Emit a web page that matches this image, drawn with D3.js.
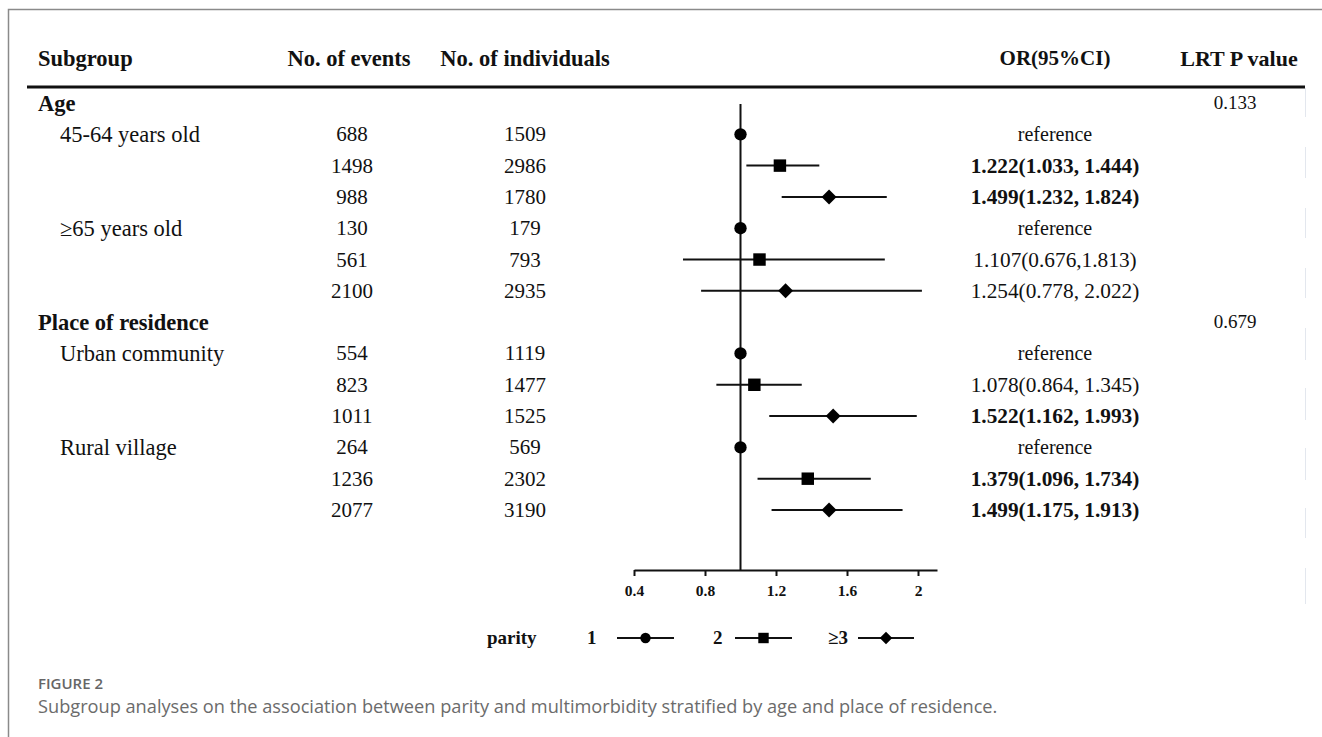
<!DOCTYPE html>
<html>
<head>
<meta charset="utf-8">
<script src="https://cdn.jsdelivr.net/npm/d3@7/dist/d3.min.js"></script>
<style>
  html, body { margin: 0; padding: 0; background: #fff; }
  svg { display: block; }
</style>
</head>
<body>
<svg id="chart" width="1322" height="737"></svg>
<script>
// Subgroup forest plot: parity vs multimorbidity, stratified by age and place of residence
const rowLabels = ["Age", "45-64 years old", "", "", "≥65 years old", "", "",
                   "Place of residence", "Urban community", "", "", "Rural village", "", ""];
const headerRows = [true, false, false, false, false, false, false,
                    true, false, false, false, false, false, false];
const events      = [null, 688, 1498, 988, 130, 561, 2100, null, 554, 823, 1011, 264, 1236, 2077];
const individuals = [null, 1509, 2986, 1780, 179, 793, 2935, null, 1119, 1477, 1525, 569, 2302, 3190];
const parity      = [null, 1, 2, 3, 1, 2, 3, null, 1, 2, 3, 1, 2, 3];
const orValue     = [null, 1, 1.222, 1.499, 1, 1.107, 1.254, null, 1, 1.078, 1.522, 1, 1.379, 1.499];
const ciLower     = [null, null, 1.033, 1.232, null, 0.676, 0.778, null, null, 0.864, 1.162, null, 1.096, 1.175];
const ciUpper     = [null, null, 1.444, 1.824, null, 1.813, 2.022, null, null, 1.345, 1.993, null, 1.734, 1.913];
const orText      = ["", "reference", "1.222(1.033, 1.444)", "1.499(1.232, 1.824)",
                     "reference", "1.107(0.676,1.813)", "1.254(0.778, 2.022)",
                     "", "reference", "1.078(0.864, 1.345)", "1.522(1.162, 1.993)",
                     "reference", "1.379(1.096, 1.734)", "1.499(1.175, 1.913)"];
const significant = [false, false, true, true, false, false, false,
                     false, false, false, true, false, true, true];
const lrtP        = ["0.133", "", "", "", "", "", "", "0.679", "", "", "", "", "", ""];
const columnHeads = ["Subgroup", "No. of events", "No. of individuals", "OR(95%CI)", "LRT P value"];
const tickValues  = [0.4, 0.8, 1.2, 1.6, 2];
const parityLevels = [1, 2, 3];
const parityNames  = ["1", "2", "≥3"];
const figureLabel = "FIGURE 2";
const captionText = "Subgroup analyses on the association between parity and multimorbidity stratified by age and place of residence.";

const SERIF = "'Liberation Serif', 'Times New Roman', serif";
const SANS = "'Open Sans', 'Noto Sans', sans-serif";

const svg = d3.select("#chart");

// frame
svg.append("path")
  .attr("d", "M8.5,737 L8.5,9.5 L1322,9.5")
  .attr("fill", "none").attr("stroke", "#8a8a8a").attr("stroke-width", 1.5);

// faint cell borders on the right edge
svg.append("g").selectAll("line")
  .data([[88,117],[147,178],[208,238],[268,298],[328,360],[388,420],[448,480],[508,538],[568,604]])
  .join("line")
  .attr("x1", 1305.5).attr("x2", 1305.5)
  .attr("y1", d => d[0]).attr("y2", d => d[1])
  .attr("stroke", "#e3e7ee").attr("stroke-width", 1);

// row scale
const y = d3.scaleLinear().domain([0, 13]).range([103, 510]);
// OR scale
const x = d3.scaleLinear().domain([0.4, 2.107]).range([634, 937]);

// column headers
const colX = [38, 349, 525, 1055, 1239];
const colAnchor = ["start", "middle", "middle", "middle", "middle"];
const colSize = [22.5, 22.5, 22.5, 21, 22];
svg.append("g").selectAll("text").data(columnHeads).join("text")
  .attr("x", (d, i) => colX[i]).attr("y", 58)
  .attr("text-anchor", (d, i) => colAnchor[i])
  .attr("dominant-baseline", "central")
  .attr("font-family", SERIF).attr("font-weight", "bold")
  .attr("font-size", (d, i) => colSize[i])
  .attr("fill", "#111")
  .text(d => d);

// header rule
svg.append("line")
  .attr("x1", 27).attr("x2", 1305).attr("y1", 87).attr("y2", 87)
  .attr("stroke", "#111").attr("stroke-width", 3);

const rows = d3.range(rowLabels.length);

// subgroup labels
svg.append("g").selectAll("text").data(rows.filter(i => rowLabels[i] !== "")).join("text")
  .attr("x", i => headerRows[i] ? 38 : 60)
  .attr("y", i => y(i))
  .attr("dominant-baseline", "central")
  .attr("font-family", SERIF).attr("font-size", 22.5)
  .attr("font-weight", i => headerRows[i] ? "bold" : "normal")
  .attr("fill", "#111")
  .text(i => rowLabels[i]);

// counts
svg.append("g").selectAll("text").data(rows.filter(i => events[i] != null)).join("text")
  .attr("x", 352).attr("y", i => y(i))
  .attr("text-anchor", "middle").attr("dominant-baseline", "central")
  .attr("font-family", SERIF).attr("font-size", 21).attr("fill", "#111")
  .text(i => events[i]);
svg.append("g").selectAll("text").data(rows.filter(i => individuals[i] != null)).join("text")
  .attr("x", 525).attr("y", i => y(i))
  .attr("text-anchor", "middle").attr("dominant-baseline", "central")
  .attr("font-family", SERIF).attr("font-size", 21).attr("fill", "#111")
  .text(i => individuals[i]);

// OR text
svg.append("g").selectAll("text").data(rows.filter(i => orText[i] !== "")).join("text")
  .attr("x", 1055).attr("y", i => y(i))
  .attr("text-anchor", "middle").attr("dominant-baseline", "central")
  .attr("font-family", SERIF)
  .attr("font-size", i => orText[i] === "reference" ? 20 : 21.3)
  .attr("font-weight", i => significant[i] ? "bold" : "normal")
  .attr("fill", "#111")
  .text(i => orText[i]);

// LRT p values
svg.append("g").selectAll("text").data(rows.filter(i => lrtP[i] !== "")).join("text")
  .attr("x", 1235).attr("y", i => y(i) - 1)
  .attr("text-anchor", "middle").attr("dominant-baseline", "central")
  .attr("font-family", SERIF).attr("font-size", 19).attr("fill", "#111")
  .text(i => lrtP[i]);

// reference line at OR = 1
svg.append("line")
  .attr("x1", x(1)).attr("x2", x(1)).attr("y1", 104).attr("y2", 570)
  .attr("stroke", "#111").attr("stroke-width", 2);

// x axis
const axis = svg.append("g").attr("transform", "translate(0,570)")
  .call(d3.axisBottom(x).tickValues(tickValues).tickFormat(d => d).tickSize(6).tickSizeOuter(0).tickPadding(9));
axis.select(".domain").attr("stroke", "#111").attr("stroke-width", 2);
axis.selectAll(".tick line").attr("stroke", "#111").attr("stroke-width", 2);
axis.selectAll(".tick text")
  .attr("font-family", SERIF).attr("font-weight", "bold").attr("font-size", 15.5).attr("fill", "#111");

// marker shapes by parity level: circle, square, square turned 45° (diamond)
const symbolFor = p => p === 1 ? d3.symbolCircle : d3.symbolSquare;
const symbolSize = p => p === 1 ? 120 : p === 2 ? 155 : 112;
const symbolRotate = p => p === 3 ? 45 : 0;

// CI lines
const ciRows = rows.filter(i => ciLower[i] != null);
svg.append("g").selectAll("line").data(ciRows).join("line")
  .attr("x1", i => x(ciLower[i])).attr("x2", i => x(ciUpper[i]))
  .attr("y1", i => y(i)).attr("y2", i => y(i))
  .attr("stroke", "#111").attr("stroke-width", 2);

// point estimates
svg.append("g").selectAll("path").data(rows.filter(i => orValue[i] != null)).join("path")
  .attr("transform", i => `translate(${x(orValue[i])},${y(i)}) rotate(${symbolRotate(parity[i])})`)
  .attr("d", i => d3.symbol(symbolFor(parity[i]), symbolSize(parity[i]))())
  .attr("fill", "#000");

// legend
const legY = 637;
svg.append("text")
  .attr("x", 487).attr("y", legY).attr("dominant-baseline", "central")
  .attr("font-family", SERIF).attr("font-weight", "bold").attr("font-size", 19).attr("fill", "#111")
  .text("parity");
const legLabelX = [587, 713, 828];
const legLineX = [[617, 674], [735, 792], [858, 914]];
const leg = svg.append("g").selectAll("g").data(parityLevels).join("g");
leg.append("text")
  .attr("x", (d, i) => legLabelX[i]).attr("y", legY)
  .attr("dominant-baseline", "central")
  .attr("font-family", SERIF).attr("font-weight", "bold").attr("font-size", 19).attr("fill", "#111")
  .text((d, i) => parityNames[i]);
leg.append("line")
  .attr("x1", (d, i) => legLineX[i][0]).attr("x2", (d, i) => legLineX[i][1])
  .attr("y1", legY + 1).attr("y2", legY + 1)
  .attr("stroke", "#111").attr("stroke-width", 2);
leg.append("path")
  .attr("transform", (d, i) => `translate(${(legLineX[i][0] + legLineX[i][1]) / 2},${legY + 1}) rotate(${symbolRotate(d)})`)
  .attr("d", d => d3.symbol(symbolFor(d), symbolSize(d) * 0.7)())
  .attr("fill", "#000");

// caption
svg.append("text")
  .attr("x", 38).attr("y", 683).attr("dominant-baseline", "central")
  .attr("font-family", SANS).attr("font-weight", "600").attr("font-size", 15)
  .attr("fill", "#666")
  .text(figureLabel);
svg.append("text")
  .attr("x", 38).attr("y", 706).attr("dominant-baseline", "central")
  .attr("font-family", SANS).attr("font-size", 18.2)
  .attr("fill", "#6b6b6b")
  .text(captionText);
</script>
</body>
</html>
